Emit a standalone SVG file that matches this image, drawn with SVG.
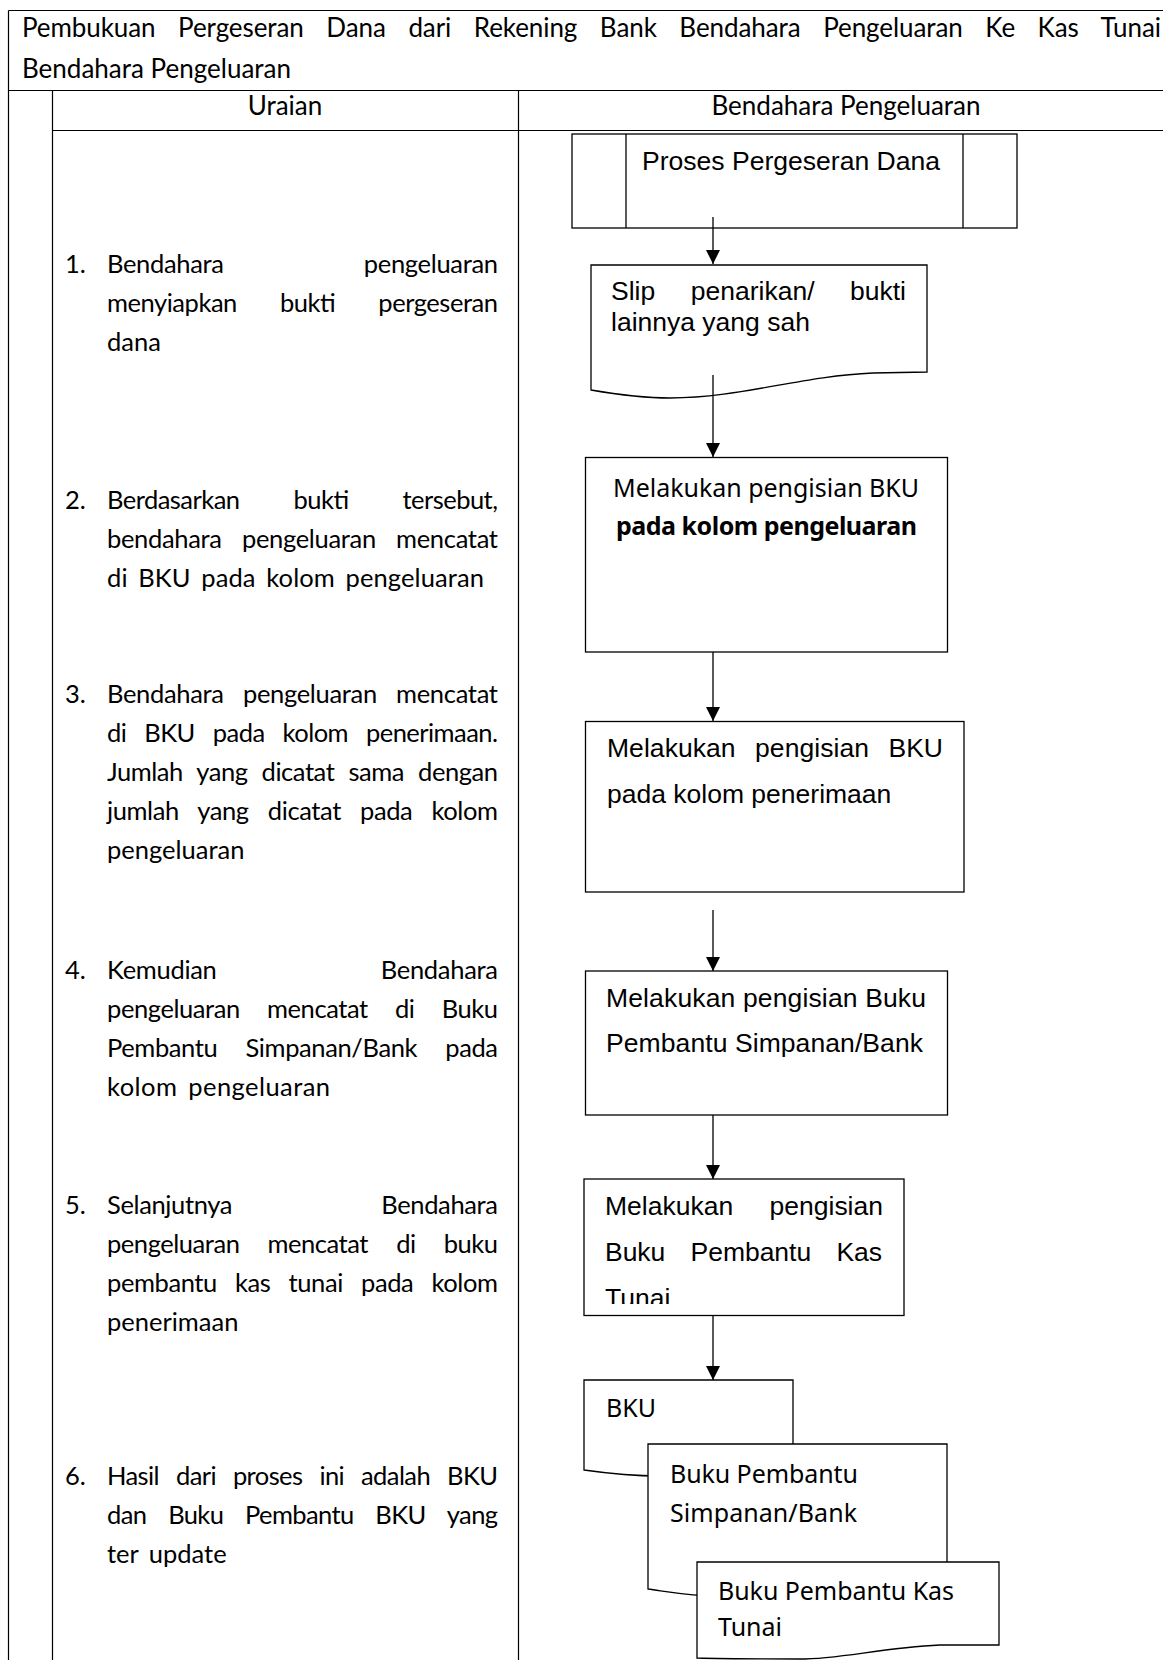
<svg xmlns="http://www.w3.org/2000/svg" width="1163" height="1660" viewBox="0 0 1163 1660">
<defs>
<marker id="arr" viewBox="0 0 14 14" refX="14" refY="7" markerWidth="14" markerHeight="14" markerUnits="userSpaceOnUse" orient="auto"><path d="M0,0 L14,7 L0,14 Z" fill="#000"/></marker>
<clipPath id="clip5"><rect x="584" y="1179" width="320" height="125"/></clipPath>
<style>
.tbl{stroke:#000;stroke-width:1.2;fill:none}
.shape{fill:#fff;stroke:#000;stroke-width:1.3}
.conn{stroke:#000;stroke-width:1.3;fill:none;marker-end:url(#arr)}
.gill{font-family:Lato,"Open Sans",sans-serif;font-size:25.5px;fill:#000}
.title{font-size:26px}
.arial{font-family:"Liberation Sans",Arial,sans-serif;font-size:26.5px;fill:#000}
.cal{font-family:"Noto Sans",sans-serif;font-size:25px;fill:#000}
.bold{font-weight:bold}
</style>
</defs>
<rect width="1163" height="1660" fill="#fff"/>
<g id="table" class="tbl">
<line x1="8.5" y1="10.5" x2="1163" y2="10.5"/>
<line x1="8.5" y1="10.5" x2="8.5" y2="1660"/>
<line x1="8.5" y1="90.5" x2="1163" y2="90.5"/>
<line x1="52.5" y1="90.5" x2="52.5" y2="1660"/>
<line x1="518.5" y1="90.5" x2="518.5" y2="1660"/>
<line x1="52.5" y1="130.5" x2="1163" y2="130.5"/>
</g>
<g id="title" class="gill title">
<text x="22" y="37" textLength="1139" lengthAdjust="spacing" word-spacing="16">Pembukuan Pergeseran Dana dari Rekening Bank Bendahara Pengeluaran Ke Kas Tunai</text>
<text x="22" y="78">Bendahara Pengeluaran</text>
</g>
<g id="header" class="gill title">
<text x="285" y="115" text-anchor="middle">Uraian</text>
<text x="846" y="115" text-anchor="middle">Bendahara Pengeluaran</text>
</g>
<g id="step1" class="gill">
<text x="65" y="273">1.</text>
<text x="107" y="273" textLength="391" lengthAdjust="spacing" word-spacing="134">Bendahara pengeluaran</text>
<text x="107" y="312" textLength="391" lengthAdjust="spacing" word-spacing="37">menyiapkan bukti pergeseran</text>
<text x="107" y="351">dana</text>
</g>
<g id="step2" class="gill">
<text x="65" y="509">2.</text>
<text x="107" y="509" textLength="391" lengthAdjust="spacing" word-spacing="48">Berdasarkan bukti tersebut,</text>
<text x="107" y="548" textLength="391" lengthAdjust="spacing" word-spacing="14">bendahara pengeluaran mencatat</text>
<text x="107" y="587" textLength="377" lengthAdjust="spacing" word-spacing="4">di BKU pada kolom pengeluaran</text>
</g>
<g id="step3" class="gill">
<text x="65" y="703">3.</text>
<text x="107" y="703" textLength="391" lengthAdjust="spacing" word-spacing="13">Bendahara pengeluaran mencatat</text>
<text x="107" y="742" textLength="391" lengthAdjust="spacing" word-spacing="12">di BKU pada kolom penerimaan.</text>
<text x="107" y="781" textLength="391" lengthAdjust="spacing" word-spacing="8">Jumlah yang dicatat sama dengan</text>
<text x="107" y="820" textLength="391" lengthAdjust="spacing" word-spacing="13">jumlah yang dicatat pada kolom</text>
<text x="107" y="859">pengeluaran</text>
</g>
<g id="step4" class="gill">
<text x="65" y="979">4.</text>
<text x="107" y="979" textLength="391" lengthAdjust="spacing" word-spacing="158">Kemudian Bendahara</text>
<text x="107" y="1018" textLength="391" lengthAdjust="spacing" word-spacing="21">pengeluaran mencatat di Buku</text>
<text x="107" y="1057" textLength="391" lengthAdjust="spacing" word-spacing="22">Pembantu Simpanan/Bank pada</text>
<text x="107" y="1096" textLength="223" lengthAdjust="spacing" word-spacing="4">kolom pengeluaran</text>
</g>
<g id="step5" class="gill">
<text x="65" y="1214">5.</text>
<text x="107" y="1214" textLength="391" lengthAdjust="spacing" word-spacing="143">Selanjutnya Bendahara</text>
<text x="107" y="1253" textLength="391" lengthAdjust="spacing" word-spacing="22">pengeluaran mencatat di buku</text>
<text x="107" y="1292" textLength="391" lengthAdjust="spacing" word-spacing="12">pembantu kas tunai pada kolom</text>
<text x="107" y="1331">penerimaan</text>
</g>
<g id="step6" class="gill">
<text x="65" y="1485">6.</text>
<text x="107" y="1485" textLength="391" lengthAdjust="spacing" word-spacing="11">Hasil dari proses ini adalah BKU</text>
<text x="107" y="1524" textLength="391" lengthAdjust="spacing" word-spacing="16">dan Buku Pembantu BKU yang</text>
<text x="107" y="1563" word-spacing="4">ter update</text>
</g>
<g id="proses">
<rect class="shape" x="572" y="134" width="445" height="94"/>
<line class="tbl" x1="626" y1="134" x2="626" y2="228" style="stroke-width:1.3"/>
<line class="tbl" x1="963" y1="134" x2="963" y2="228" style="stroke-width:1.3"/>
<text class="arial" x="642" y="170" textLength="298" lengthAdjust="spacingAndGlyphs">Proses Pergeseran Dana</text>
</g>
<g id="slip">
<path class="shape" d="M591,265 H927 V372 L873,373 C800,376 740,398 670,398 C645,398 620,395 591,390 Z"/>
<text class="arial" x="611" y="300" textLength="295" lengthAdjust="spacing" word-spacing="28">Slip penarikan/ bukti</text>
<text class="arial" x="611" y="331">lainnya yang sah</text>
</g>
<g id="bku-keluar">
<rect class="shape" x="585.5" y="457.5" width="362" height="194.5"/>
<text class="cal" x="613" y="497" textLength="306" lengthAdjust="spacing">Melakukan pengisian BKU</text>
<text class="cal bold" x="616" y="535" textLength="301" lengthAdjust="spacing">pada kolom pengeluaran</text>
</g>
<g id="bku-terima">
<rect class="shape" x="585.5" y="721.5" width="378.5" height="170.5"/>
<text class="arial" x="607" y="757" textLength="336" lengthAdjust="spacing" word-spacing="12">Melakukan pengisian BKU</text>
<text class="arial" x="607" y="803">pada kolom penerimaan</text>
</g>
<g id="buku-bank">
<rect class="shape" x="585.5" y="971" width="362" height="144"/>
<text class="arial" x="606" y="1007" textLength="320" lengthAdjust="spacing">Melakukan pengisian Buku</text>
<text class="arial" x="606" y="1052" textLength="317" lengthAdjust="spacing">Pembantu Simpanan/Bank</text>
</g>
<g id="buku-kas">
<rect class="shape" x="584" y="1179" width="320" height="136.5"/>
<text class="arial" x="605" y="1215" textLength="278" lengthAdjust="spacing" word-spacing="29">Melakukan pengisian</text>
<text class="arial" x="605" y="1261" textLength="277" lengthAdjust="spacing" word-spacing="18">Buku Pembantu Kas</text>
<text class="arial" x="605" y="1307" clip-path="url(#clip5)">Tunai</text>
</g>
<g id="doc-bku">
<path class="shape" d="M584,1380 H793 V1460 C760,1460 700,1476 660,1476 C630,1476 605,1473 584,1470 Z"/>
<text class="cal" x="606" y="1417">BKU</text>
</g>
<g id="doc-bank">
<path class="shape" d="M648,1444 H947 V1575 C900,1575 800,1596 720,1596 C690,1596 670,1592 648,1589 Z"/>
<text class="cal" x="670" y="1483" textLength="188" lengthAdjust="spacing">Buku Pembantu</text>
<text class="cal" x="670" y="1522" textLength="187" lengthAdjust="spacing">Simpanan/Bank</text>
</g>
<g id="doc-kas">
<path class="shape" d="M697,1562 H999 V1645 L940,1645 C880,1648 840,1659 800,1659 C760,1659 730,1659 697,1658 Z"/>
<text class="cal" x="718" y="1600" textLength="236" lengthAdjust="spacing">Buku Pembantu Kas</text>
<text class="cal" x="718" y="1636">Tunai</text>
</g>
<g id="connectors">
<line class="conn" x1="713" y1="217" x2="713" y2="264"/>
<line class="conn" x1="713" y1="375" x2="713" y2="457"/>
<line class="conn" x1="713" y1="652" x2="713" y2="721"/>
<line class="conn" x1="713" y1="910" x2="713" y2="971"/>
<line class="conn" x1="713" y1="1115" x2="713" y2="1179"/>
<line class="conn" x1="713" y1="1316" x2="713" y2="1380"/>
</g>
</svg>
